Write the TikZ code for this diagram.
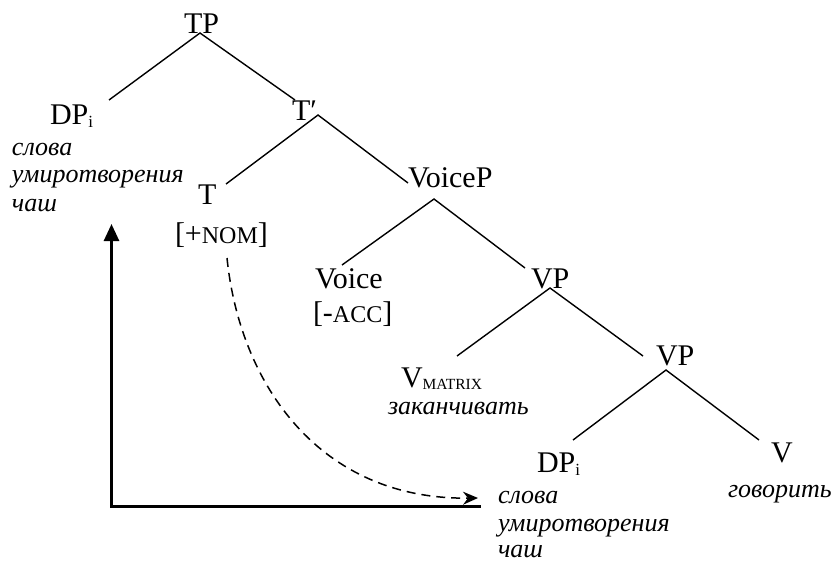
\documentclass[tikz,border=0pt]{standalone}
\usepackage{fontspec}
\setmainfont{Liberation Serif}
\usetikzlibrary{arrows.meta}
\newcommand\lowsub[1]{\raisebox{-3pt}{\fontsize{17}{17}\selectfont #1}}
\newcommand\smallcap[1]{{\fontsize{24}{24}\selectfont #1}}
\begin{document}
\begin{tikzpicture}[x=1pt,y=-1pt,
  lab/.style={inner sep=0pt, outer sep=0pt, anchor=base west, font=\fontsize{30}{32}\selectfont},
  gloss/.style={inner sep=0pt, outer sep=0pt, anchor=base west, font=\fontsize{26}{28}\selectfont\itshape},
  edge/.style={line width=1.4pt},
  axis/.style={line width=2.6pt},
  move/.style={line width=1.5pt, dash pattern=on 9pt off 6pt, -{Stealth[length=15pt,width=13pt,inset=5pt]}}]
\useasboundingbox (0,0) rectangle (833,562);
\fill[white] (0,0) rectangle (833,562);

% labels
\node[lab] (TP) at (184,33) {TP};
\node[lab] (DPa) at (50,124) {DP\lowsub{i}};
\node[gloss] (Ga1) at (12,155) {слова};
\node[gloss] (Ga2) at (12,182) {умиротворения};
\node[gloss] (Ga3) at (12,211) {чаш};
\node[lab] (Tbar) at (292,120) {T′};
\node[lab] (T) at (198,204) {T};
\node[lab] (NOM) at (175,243) {[+\smallcap{NOM}]};
\node[lab] (VoiceP) at (408,187) {VoiceP};
\node[lab] (Voice) at (315,288) {Voice};
\node[lab] (ACC) at (313,322) {[-\smallcap{ACC}]};
\node[lab] (VPa) at (531,288) {VP};
\node[lab] (VPb) at (656,365) {VP};
\node[lab] (Vm) at (401,387) {V\raisebox{-2pt}{\fontsize{15.5}{16}\selectfont MATRIX}};
\node[gloss] (Gm) at (388,414) {заканчивать};
\node[lab] (DPb) at (537,472) {DP\lowsub{i}};
\node[lab] (V) at (771,462) {V};
\node[gloss] (Gv) at (728,497) {говорить};
\node[gloss] (Gb1) at (498,503) {слова};
\node[gloss] (Gb2) at (498,531) {умиротворения};
\node[gloss] (Gb3) at (498,557) {чаш};

% edge end points
\coordinate (TP-b) at (200,33);
\coordinate (DPa-t) at (109,100);
\coordinate (Tbar-t) at (295,100);
\coordinate (Tbar-b) at (318,115);
\coordinate (T-t) at (226,184);
\coordinate (VoiceP-t) at (408,183);
\coordinate (VoiceP-b) at (434,199);
\coordinate (Voice-t) at (342,265);
\coordinate (VPa-t) at (525,268);
\coordinate (VPa-b) at (550,288);
\coordinate (Vm-t) at (457,356);
\coordinate (VPb-t) at (643,356);
\coordinate (VPb-b) at (666,370);
\coordinate (DPb-t) at (573,440);
\coordinate (V-t) at (759,440);

\draw[edge] (DPa-t) -- (TP-b) -- (Tbar-t);
\draw[edge] (T-t) -- (Tbar-b) -- (VoiceP-t);
\draw[edge] (Voice-t) -- (VoiceP-b) -- (VPa-t);
\draw[edge] (Vm-t) -- (VPa-b) -- (VPb-t);
\draw[edge] (DPb-t) -- (VPb-b) -- (V-t);

% axes
\coordinate (origin) at (111.5,506.5);
\coordinate (ytip) at (111.5,224);
\coordinate (xend) at (481,506.5);
\draw[axis, {Triangle[length=17pt,width=15pt]}-] (ytip) -- (origin) -- (xend);

% movement arrow
\coordinate (nom-s) at (227,258);
\coordinate (move-end) at (478,498);
\draw[move] (nom-s) .. controls (240,385) and (320,500) .. (move-end);
\end{tikzpicture}
\end{document}
